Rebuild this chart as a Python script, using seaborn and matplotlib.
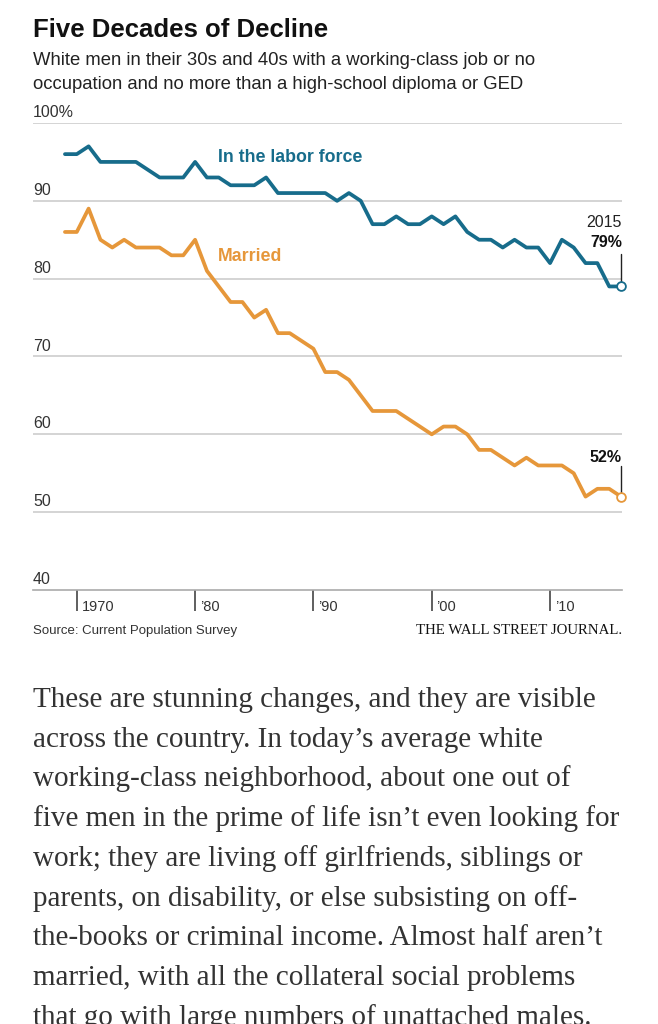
import matplotlib.pyplot as plt
import pandas as pd
import seaborn as sns

# ------------------------------------------------------------------
# "Five Decades of Decline" (WSJ graphic + article text below it)
# Values, one per year 1968-2015.
# ------------------------------------------------------------------

YEARS = list(range(1968, 2016))
LABOR_FORCE = [
    96, 96, 97, 95, 95, 95, 95, 94, 93, 93, 93, 95,
    93, 93, 92, 92, 92, 93, 91, 91, 91, 91,
    91, 90, 91, 90, 87, 87, 88, 87, 87, 88,
    87, 88, 86, 85, 85, 84, 85, 84, 84, 82,
    85, 84, 82, 82, 79, 79,
]
MARRIED = [
    86, 86, 89, 85, 84, 85, 84, 84, 84, 83, 83, 85,
    81, 79, 77, 77, 75, 76, 73, 73, 72, 71,
    68, 68, 67, 65, 63, 63, 63, 62, 61, 60,
    61, 61, 60, 58, 58, 57, 56, 57, 56, 56,
    56, 55, 52, 53, 53, 52,
]
SERIES = ["In the labor force", "Married"]

DECADE_TICKS = [1970, 1980, 1990, 2000, 2010]
DECADE_LABELS = ["1970", "\u201980", "\u201990", "\u201900", "\u201910"]
Y_TICKS = [40, 50, 60, 70, 80, 90, 100]
Y_LABELS = ["40", "50", "60", "70", "80", "90", "100%"]

TITLE = "Five Decades of Decline"
SUBTITLE_LINES = [
    "White men in their 30s and 40s with a working-class job or no",
    "occupation and no more than a high-school diploma or GED",
]
SOURCE = "Source: Current Population Survey"
CREDIT = "THE WALL STREET JOURNAL."
BODY_LINES = [
    "These are stunning changes, and they are visible",
    "across the country. In today\u2019s average white",
    "working-class neighborhood, about one out of",
    "five men in the prime of life isn\u2019t even looking for",
    "work; they are living off girlfriends, siblings or",
    "parents, on disability, or else subsisting on off-",
    "the-books or criminal income. Almost half aren\u2019t",
    "married, with all the collateral social problems",
    "that go with large numbers of unattached males.",
]

BLUE = "#176c8b"
ORANGE = "#e6973a"
GRID = "#cdcdcd"
SANS = ["Liberation Sans", "DejaVu Sans"]
SERIF = ["Liberation Serif", "DejaVu Serif"]

W_PX, H_PX = 658, 1024


def fx(px):
    return px / W_PX


def fy(px):
    return 1 - px / H_PX


def main() -> None:
    sns.set_theme(style="white")
    plt.rcParams["font.family"] = SANS

    df = pd.DataFrame(
        {
            "year": YEARS * 2,
            "share": LABOR_FORCE + MARRIED,
            "series": [SERIES[0]] * len(YEARS) + [SERIES[1]] * len(YEARS),
        }
    )
    # the original graphic puts each annual value at the end of its year
    df["pos"] = df["year"] + 1

    fig = plt.figure(figsize=(W_PX / 100, H_PX / 100), dpi=100)
    fig.patch.set_facecolor("white")

    # plot area: x 33..622 px, y 123..590 px
    ax = fig.add_axes([fx(33), fy(590), fx(622) - fx(33), fy(123) - fy(590)])
    ax.set_facecolor("white")

    sns.lineplot(
        data=df,
        x="pos",
        y="share",
        hue="series",
        palette={SERIES[0]: BLUE, SERIES[1]: ORANGE},
        linewidth=2.7,
        legend=False,
        ax=ax,
        clip_on=False,
        zorder=3,
    )

    last = df[df["year"] == YEARS[-1]]
    for name, color in zip(SERIES, [BLUE, ORANGE]):
        pt = last[last["series"] == name]
        sns.scatterplot(
            data=pt,
            x="pos",
            y="share",
            s=40,
            color="white",
            edgecolor=color,
            linewidth=1.3,
            ax=ax,
            zorder=5,
            clip_on=False,
        )

    x_end = YEARS[-1] + 1
    ax.set_xlim(1966.3, 2016.08)
    ax.set_ylim(Y_TICKS[0], Y_TICKS[-1])

    # gridlines + labels sitting above them
    ax.set_yticks(Y_TICKS[1:])
    ax.yaxis.grid(True, color=GRID, linewidth=1.2)
    ax.tick_params(axis="y", length=0, labelleft=False)
    for val, lbl in zip(Y_TICKS, Y_LABELS):
        ax.text(
            0, val + 0.75, lbl,
            transform=ax.get_yaxis_transform(),
            ha="left", va="baseline", fontsize=11.5, color="#333333",
        )

    ax.set_xticks(DECADE_TICKS)
    ax.set_xticklabels([""] * len(DECADE_TICKS))
    ax.tick_params(axis="x", bottom=True, direction="out", length=15,
                   width=1.2, color="#444444")
    ax.xaxis.grid(False)
    for pos, lbl in zip(DECADE_TICKS, DECADE_LABELS):
        ax.text(
            pos + 0.4, -0.045, lbl,
            transform=ax.get_xaxis_transform(),
            ha="left", va="baseline", fontsize=10.5, color="#333333",
        )

    for side in ["top", "left", "right"]:
        ax.spines[side].set_visible(False)
    ax.spines["bottom"].set_color("#aaaaaa")
    ax.spines["bottom"].set_linewidth(1.2)
    ax.set_xlabel("")
    ax.set_ylabel("")

    # series labels
    ax.text(1981.9, 95.6, SERIES[0], color=BLUE, fontsize=12.8,
            fontweight="bold", va="center", ha="left")
    ax.text(1981.9, 82.8, SERIES[1], color=ORANGE, fontsize=12.8,
            fontweight="bold", va="center", ha="left")

    # end-point callouts
    lf_end = LABOR_FORCE[-1]
    m_end = MARRIED[-1]
    ax.plot([x_end, x_end], [lf_end + 0.55, lf_end + 4.2], color="#222222",
            linewidth=1.0, clip_on=False, zorder=4)
    ax.text(x_end + 0.08, lf_end + 5.05, f"{lf_end}%", ha="right", va="baseline",
            fontsize=11.5, fontweight="bold", color="#111111")
    ax.text(x_end + 0.08, lf_end + 7.6, str(YEARS[-1]), ha="right", va="baseline",
            fontsize=11.5, color="#222222")
    ax.plot([x_end, x_end], [m_end + 0.55, m_end + 3.9], color="#222222",
            linewidth=1.0, clip_on=False, zorder=4)
    ax.text(x_end + 0.08, m_end + 4.5, f"{m_end}%", ha="right", va="baseline",
            fontsize=11.5, fontweight="bold", color="#111111")

    # header
    fig.text(fx(33), fy(37), TITLE, fontsize=18.5, fontweight="bold",
             color="#111111", va="baseline", ha="left")
    for i, line in enumerate(SUBTITLE_LINES):
        fig.text(fx(33), fy(65 + 24 * i), line, fontsize=13.3,
                 color="#222222", va="baseline", ha="left")

    # footer
    fig.text(fx(33), fy(634), SOURCE, fontsize=9.5, color="#333333",
             va="baseline", ha="left")
    fig.text(fx(622), fy(634), CREDIT, fontsize=10.7, color="#111111",
             va="baseline", ha="right", family=SERIF)

    # article text (the last line is cut by the bottom edge, as in the source)
    for i, line in enumerate(BODY_LINES):
        fig.text(fx(33), fy(707 + 39.7 * i), line, fontsize=21.0,
                 color="#333333", va="baseline", ha="left", family=SERIF)

    fig.savefig("out.png", dpi=100, facecolor="white")
    plt.close(fig)


if __name__ == "__main__":
    main()
